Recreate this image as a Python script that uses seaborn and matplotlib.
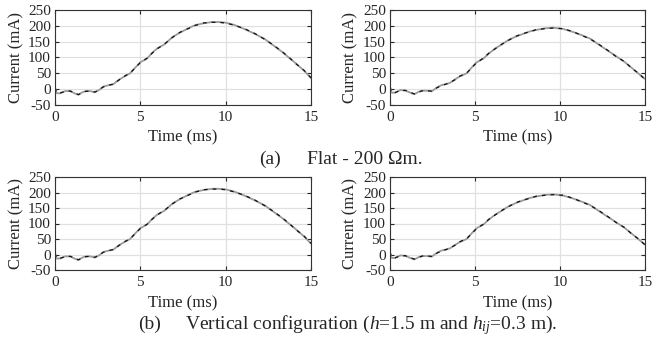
import numpy as np
import pandas as pd
import matplotlib
matplotlib.use("Agg")
import matplotlib.pyplot as plt
import seaborn as sns

# ---- data (time in ms, current in mA) ----
t_left = [0, 0.1, 0.3, 0.6, 0.9, 1.1, 1.37, 1.6, 1.8, 2.05, 2.34, 2.6, 2.83, 3.1, 3.4,
          3.7, 4.0, 4.4, 4.7, 5.0, 5.4, 5.7, 6.0, 6.4, 6.9, 7.3, 7.8, 8.2, 8.7, 9.2,
          9.6, 10.0, 10.5, 11.1, 11.7, 12.3, 12.8, 13.3, 13.7, 14.1, 14.6, 15.0]
meas_left = [5, -13, -13, -6, -6, -12, -18, -10, -6, -6, -10, -2, 8, 12, 15,
             28, 38, 50, 68, 85, 97, 115, 129, 141, 165, 178, 192, 202, 208, 212,
             212, 210, 203, 190, 175, 158, 138, 118, 100, 82, 58, 35]
sim_left = [4, -12, -12, -7, -6, -11, -17, -11, -7, -6, -9, -1, 7, 12, 16,
            27, 39, 51, 67, 84, 98, 114, 128, 142, 164, 179, 191, 201, 209, 211,
            211, 209, 202, 191, 176, 157, 139, 119, 101, 81, 59, 36]

t_right = [0, 0.1, 0.3, 0.6, 0.9, 1.1, 1.43, 1.7, 1.9, 2.2, 2.45, 2.75, 3.04, 3.3, 3.53,
           3.8, 4.1, 4.51, 4.8, 5.1, 5.5, 5.8, 6.2, 6.6, 6.96, 7.4, 7.8, 8.2, 8.6, 9.1,
           9.6, 10.2, 10.8, 11.3, 11.76, 12.3, 12.8, 13.3, 13.8, 14.2, 14.6, 15.0]
meas_right = [8, -11, -11, -3, -4, -9, -16, -8, -5, -5, -7, 5, 13, 16, 20,
              30, 40, 50, 68, 85, 97, 112, 129, 142, 155, 166, 174, 182, 187, 192,
              194, 190, 180, 170, 160, 140, 122, 104, 86, 68, 50, 32]
sim_right = [7, -10, -11, -4, -4, -8, -15, -9, -5, -5, -6, 4, 12, 16, 21,
             29, 41, 51, 67, 84, 98, 113, 128, 143, 154, 167, 175, 181, 188, 191,
             193, 191, 181, 169, 159, 141, 123, 103, 87, 67, 51, 31]

x_ticks = [0, 5, 10, 15]
y_ticks = [-50, 0, 50, 100, 150, 200, 250]
caption_a = ("(a)", "Flat - 200 \u03a9m.")
caption_b = ("(b)", r"Vertical configuration ($h$=1.5 m and $h_{ij}$=0.3 m).")

# ---- style ----
sns.set_style("ticks")
plt.rcParams["font.family"] = ["Liberation Serif", "DejaVu Serif"]
plt.rcParams["mathtext.fontset"] = "custom"
plt.rcParams["mathtext.rm"] = "Liberation Serif"
plt.rcParams["mathtext.it"] = "Liberation Serif:italic"

W, H = 654, 337
fig = plt.figure(figsize=(W / 100, H / 100), dpi=100)


def px_axes(left, right, top, bottom):
    return fig.add_axes([left / W, 1 - bottom / H, (right - left) / W, (bottom - top) / H])


def panel(ax, t, meas, sim):
    df = pd.DataFrame({"t": t, "meas": meas, "sim": sim})
    sns.lineplot(data=df, x="t", y="meas", ax=ax, color="#9a9a9a", lw=1.3)
    sns.lineplot(data=df, x="t", y="sim", ax=ax, color="#111111", lw=0.9,
                 linestyle=(0, (3, 4)))
    ax.set_xlim(0, 15)
    ax.set_ylim(-50, 250)
    ax.set_xticks(x_ticks)
    ax.set_yticks(y_ticks)
    ax.set_yticklabels([str(v) for v in y_ticks])
    ax.grid(True, color="#e0e0e0", lw=0.9)
    ax.set_axisbelow(True)
    ax.tick_params(direction="in", length=3, width=0.8, top=True, right=True,
                   labelsize=11, colors="#262626", pad=4)
    ax.tick_params(axis="y", pad=3)
    for s in ax.spines.values():
        s.set_visible(True)
        s.set_color("#333333")
        s.set_linewidth(0.8)
    ax.set_xlabel("Time (ms)", fontsize=12, color="#262626", va="center")
    ax.set_ylabel("Current (mA)", fontsize=12, color="#262626", va="center")


ax1 = px_axes(55, 311, 10, 105)
ax2 = px_axes(390, 645, 10, 105)
ax3 = px_axes(55, 311, 177, 270)
ax4 = px_axes(390, 645, 177, 270)

panel(ax1, t_left, meas_left, sim_left)
panel(ax2, t_right, meas_right, sim_right)
panel(ax3, t_left, meas_left, sim_left)
panel(ax4, t_right, meas_right, sim_right)

for ax in (ax1, ax2):
    ax.xaxis.set_label_coords(0.5, (105 - 137) / 95)
for ax in (ax3, ax4):
    ax.xaxis.set_label_coords(0.5, (270 - 303) / 93)
ax1.yaxis.set_label_coords((16 - 55) / 256, 0.5)
ax3.yaxis.set_label_coords((16 - 55) / 256, 0.5)
ax2.yaxis.set_label_coords((350 - 390) / 255, 0.5)
ax4.yaxis.set_label_coords((350 - 390) / 255, 0.5)

fig.text(259 / W, 1 - 164 / H, caption_a[0], fontsize=14, va="baseline", ha="left")
fig.text(307 / W, 1 - 164 / H, caption_a[1], fontsize=14, va="baseline", ha="left")
fig.text(138 / W, 1 - 329 / H, caption_b[0], fontsize=14, va="baseline", ha="left")
fig.text(185 / W, 1 - 329 / H, caption_b[1], fontsize=14, va="baseline", ha="left")

fig.savefig("out.png", dpi=100)
